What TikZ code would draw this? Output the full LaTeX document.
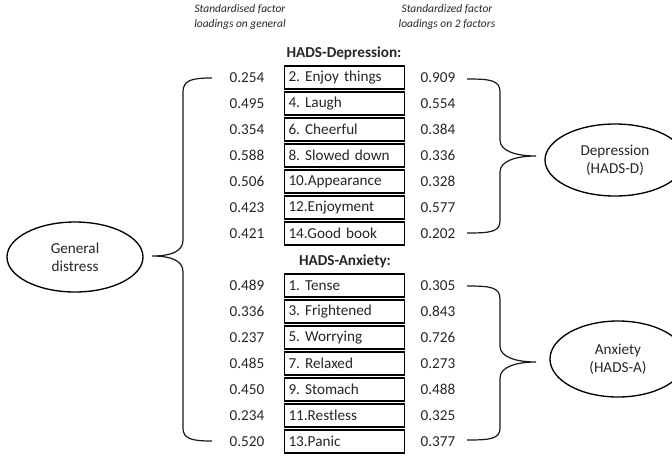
\documentclass[tikz,border=0pt]{standalone}
\usepackage{fontspec}
\setmainfont{Carlito}
\usetikzlibrary{shapes.geometric}
\frenchspacing

\tikzset{
  txt/.style={inner sep=0.75pt, text=black!85, font=\fontsize{11.4}{13.5}\selectfont},
  itembox/.style={txt, draw=black, line width=1pt, minimum height=17.25pt,
    text width=84pt, inner xsep=3pt, align=left},
  factor/.style={txt, ellipse, draw=black, line width=1pt, align=center, inner sep=0pt},
  head/.style={txt, font=\fontsize{11.4}{13.5}\selectfont\bfseries},
  colnote/.style={txt, align=center, font=\fontsize{8.6}{11.25}\selectfont\itshape},
  brace/.style={draw=black!90, line width=0.9pt}
}

\begin{document}
\begin{tikzpicture}[x=0.75pt,y=0.75pt,yscale=-1]
\useasboundingbox (0,0) rectangle (672,455);

% column notes
\node [colnote] (ngen) at (240,16.5) {Standardised factor\\loadings on general};
\node [colnote] (ntwo) at (447,16.5) {Standardized factor\\loadings on 2 factors};

% HADS-Depression items
\node [head] (hdep) at (344,53) {HADS-Depression:};
\foreach \g/\t/\f [count=\i] in {0.254/2. Enjoy things/0.909, 0.495/4. Laugh/0.554,
  0.354/6. Cheerful/0.384, 0.588/8. Slowed down/0.336, 0.506/10.Appearance/0.328,
  0.423/12.Enjoyment/0.577, 0.421/14.Good book/0.202}{
  \node [itembox] (d\i) at (344.5,{77.5+26*(\i-1)}) {\t};
  \node [txt] (dg\i) at (247,{77.5+26*(\i-1)}) {\g};
  \node [txt] (df\i) at (438,{77.5+26*(\i-1)}) {\f};
}

% HADS-Anxiety items
\node [head] (hanx) at (345,261) {HADS-Anxiety:};
\foreach \g/\t/\f [count=\i] in {0.489/1. Tense/0.305, 0.336/3. Frightened/0.843,
  0.237/5. Worrying/0.726, 0.485/7. Relaxed/0.273, 0.450/9. Stomach/0.488,
  0.234/11.Restless/0.325, 0.520/13.Panic/0.377}{
  \node [itembox] (a\i) at (344.5,{285.5+26*(\i-1)}) {\t};
  \node [txt] (ag\i) at (247,{285.5+26*(\i-1)}) {\g};
  \node [txt] (af\i) at (438,{285.5+26*(\i-1)}) {\f};
}

% latent factors
\node [factor, minimum width=102pt, minimum height=52.5pt] (gen) at (75,257) {General\\distress};
\node [factor, minimum width=105pt, minimum height=54pt] (dep) at (615,160) {Depression\\(HADS-D)};
\node [factor, minimum width=102pt, minimum height=57pt] (anx) at (618,359) {Anxiety\\(HADS-A)};

% brace ends
\coordinate (gtop) at (212,78);
\coordinate (gbot) at (212,441);
\coordinate (gtip) at (152,256);
\coordinate (dtop) at (467,79);
\coordinate (dbot) at (467,233);
\coordinate (dtip) at (536,156);
\coordinate (atop) at (467,286);
\coordinate (abot) at (467,440);
\coordinate (atip) at (536,362);

% general brace
\draw [brace] (gtop) .. controls (192,78) and (183,80) .. (183,92) -- (183,240)
  .. controls (183,251) and (172,256) .. (gtip)
  .. controls (172,256) and (183,261) .. (183,272) -- (183,428)
  .. controls (183,439) and (192,441) .. (gbot);

% depression brace
\draw [brace] (dtop) .. controls (490,79) and (500,80) .. (500,92) -- (500,140)
  .. controls (500,151) and (516,156) .. (dtip)
  .. controls (516,156) and (500,161) .. (500,172) -- (500,221)
  .. controls (500,232) and (490,233) .. (dbot);

% anxiety brace
\draw [brace] (atop) .. controls (490,286) and (500,287) .. (500,299) -- (500,346)
  .. controls (500,357) and (516,362) .. (atip)
  .. controls (516,362) and (500,367) .. (500,378) -- (500,428)
  .. controls (500,439) and (490,440) .. (abot);

\end{tikzpicture}
\end{document}
